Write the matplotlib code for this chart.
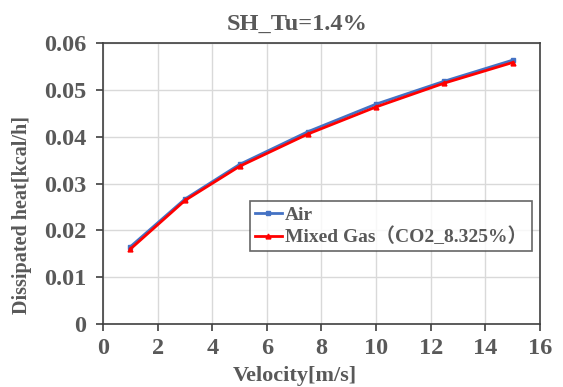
import matplotlib
matplotlib.use('Agg')
import matplotlib.pyplot as plt

velocity = [1, 3, 5, 7.5, 10, 12.5, 15]
air = [0.0165, 0.0267, 0.0341, 0.0411, 0.0470, 0.0519, 0.0564]
mixed = [0.0160, 0.0264, 0.0337, 0.0406, 0.0464, 0.0515, 0.0559]
xticks = [0, 2, 4, 6, 8, 10, 12, 14, 16]
yticks = [0, 0.01, 0.02, 0.03, 0.04, 0.05, 0.06]
ylabels = ['0', '0.01', '0.02', '0.03', '0.04', '0.05', '0.06']

txt = '#595959'
plt.rcParams['font.family'] = ['Liberation Serif', 'Noto Sans CJK JP']
plt.rcParams['font.weight'] = 'bold'

fig = plt.figure(figsize=(5.63, 3.87), dpi=100)
ax = fig.add_axes([0.183, 0.163, 0.776, 0.725])

ax.plot(velocity, air, color='#4472C4', lw=2, marker='s', ms=3.5, label='Air', zorder=3)
ax.plot(velocity, mixed, color='#FF0000', lw=2, marker='^', ms=3.5,
        label='Mixed Gas（CO2_8.325%）', zorder=4)

ax.set_xlim(0, 16)
ax.set_ylim(0, 0.06)
ax.set_xticks(xticks)
ax.set_yticks(yticks)
ax.set_yticklabels(ylabels)
ax.grid(True, color='#d9d9d9', lw=1)
ax.set_axisbelow(True)
for s in ax.spines.values():
    s.set_color('#404040')
    s.set_linewidth(1.2)
ax.tick_params(direction='out', length=5, width=1.2, color='#404040',
               labelsize=17.5, labelcolor=txt)
ax.tick_params(axis='x', pad=5)
ax.tick_params(axis='y', pad=7)
for lab in ax.get_xticklabels() + ax.get_yticklabels():
    lab.set_fontweight('bold')

# title and axis labels sit off the axes centre, as in the source
fig.text(0.527, 0.924, 'SH_Tu=1.4%', fontsize=17.5, color=txt, fontweight='bold',
         ha='center', va='baseline')
fig.text(0.524, 0.016, 'Velocity[m/s]', fontsize=16, color=txt, fontweight='bold',
         ha='center', va='baseline')
fig.text(0.039, 0.444, 'Dissipated heat[kcal/h]', fontsize=14.5, color=txt,
         fontweight='bold', rotation=90, ha='center', va='center')

leg = ax.legend(loc='upper left', bbox_to_anchor=(0.336, 0.437), fontsize=14,
                frameon=True, fancybox=False, handlelength=1.4, handletextpad=0.15,
                borderpad=0.25, labelspacing=0.2, borderaxespad=0)
leg.get_frame().set_edgecolor('#404040')
leg.get_frame().set_linewidth(1.2)
for t in leg.get_texts():
    t.set_color(txt)
    t.set_fontweight('bold')

fig.savefig('out.png', dpi=100)
